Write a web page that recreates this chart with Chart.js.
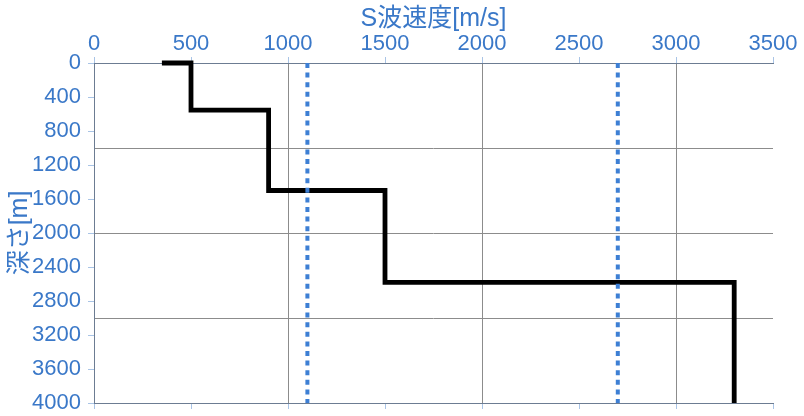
<!DOCTYPE html>
<html>
<head>
<meta charset="utf-8">
<script src="https://cdn.jsdelivr.net/npm/chart.js@4"></script>
<style>
html,body{margin:0;padding:0;background:#fff;}
#wrap{width:804px;height:416px;position:relative;}
</style>
</head>
<body>
<div id="wrap"><canvas id="c" width="804" height="416"></canvas></div>
<script>
// ---- data ----
const stepVelocity = [350, 500, 500, 900, 900, 1500, 1500, 3300, 3300];
const stepDepth    = [0, 0, 555, 555, 1500, 1500, 2580, 2580, 4000];
const refVelocities = [1100, 2700];
const depthRange = [0, 4000];
const velocityRange = [0, 3500];
const xTitle = 'S波速度[m/s]';
const yTitle = '深さ[m]';

const BLUE = '#3a78c8';
const DOT = '#3d7fd4';
const TICKC = '#a9c4e6';
const AXIS = '#6c7c92';
const GRID = '#8c8c8c';
const FONT = '"Liberation Sans", "Noto Sans CJK JP", sans-serif';

const stepPts = stepVelocity.map((v, i) => ({x: v, y: stepDepth[i]}));
const refSets = refVelocities.map(v => ({
  data: depthRange.map(d => ({x: v, y: d})),
  borderColor: DOT, borderWidth: 4, borderDash: [5, 4.6],
  pointRadius: 0, showLine: true, clip: false, order: 0
}));

const titles = {
  id: 'titles',
  afterDraw(chart) {
    const c = chart.ctx, a = chart.chartArea;
    c.save();
    c.fillStyle = BLUE;
    c.font = '25px ' + FONT;
    c.textAlign = 'center';
    c.textBaseline = 'alphabetic';
    c.fillText(xTitle, (a.left + a.right) / 2, 26);
    c.translate(27, (a.top + a.bottom) / 2);
    c.rotate(-Math.PI / 2);
    c.fillText(yTitle, 0, 0);
    c.restore();
  }
};

const plain = v => String(v);
const noPad = s => { s.paddingTop = 0; s.paddingBottom = 0; s.paddingLeft = 0; s.paddingRight = 0; };

new Chart(document.getElementById('c'), {
  type: 'scatter',
  data: {
    datasets: [
      ...refSets,
      {
        data: stepPts, borderColor: '#000', borderWidth: 4.8,
        pointRadius: 0, showLine: true, clip: false, order: 1,
        borderJoinStyle: 'miter'
      }
    ]
  },
  options: {
    responsive: false, animation: false, devicePixelRatio: 1,
    layout: {padding: {left: 0, right: 31, top: 0, bottom: 0}},
    plugins: {legend: {display: false}, tooltip: {enabled: false}},
    scales: {
      x: {
        type: 'linear', position: 'top',
        min: velocityRange[0], max: velocityRange[1],
        ticks: {stepSize: 500, color: BLUE, font: {size: 22, family: FONT}, padding: 0, maxRotation: 0, callback: plain},
        grid: {
          color: c => (c.tick && c.tick.value % 1000 === 0 && c.tick.value > 0 && c.tick.value < 3500) ? GRID : 'rgba(0,0,0,0)',
          tickColor: TICKC, tickLength: 6, lineWidth: 1
        },
        border: {color: AXIS, width: 1},
        afterFit: s => { s.height = 63; noPad(s); }
      },
      x2: {
        type: 'linear', position: 'bottom',
        min: velocityRange[0], max: velocityRange[1],
        ticks: {stepSize: 500, display: false},
        grid: {color: 'rgba(0,0,0,0)', tickColor: TICKC, tickLength: 6},
        border: {color: AXIS, width: 1},
        afterFit: s => { s.height = 13; noPad(s); }
      },
      y: {
        type: 'linear', position: 'left', reverse: true,
        min: depthRange[0], max: depthRange[1],
        ticks: {stepSize: 400, color: BLUE, font: {size: 22, family: FONT}, padding: 7, callback: plain},
        grid: {color: 'rgba(0,0,0,0)', tickColor: TICKC, tickLength: 6},
        border: {color: AXIS, width: 1},
        afterFit: s => { s.width = 94; noPad(s); }
      },
      y2: {
        type: 'linear', position: 'right', reverse: true,
        min: depthRange[0], max: depthRange[1],
        ticks: {stepSize: 1000, display: false},
        grid: {
          color: c => (c.tick && c.tick.value % 1000 === 0 && c.tick.value > 0 && c.tick.value < 4000) ? GRID : 'rgba(0,0,0,0)',
          drawTicks: false
        },
        border: {display: false},
        afterFit: s => { s.width = 0; noPad(s); }
      }
    }
  },
  plugins: [titles]
});
</script>
</body>
</html>
